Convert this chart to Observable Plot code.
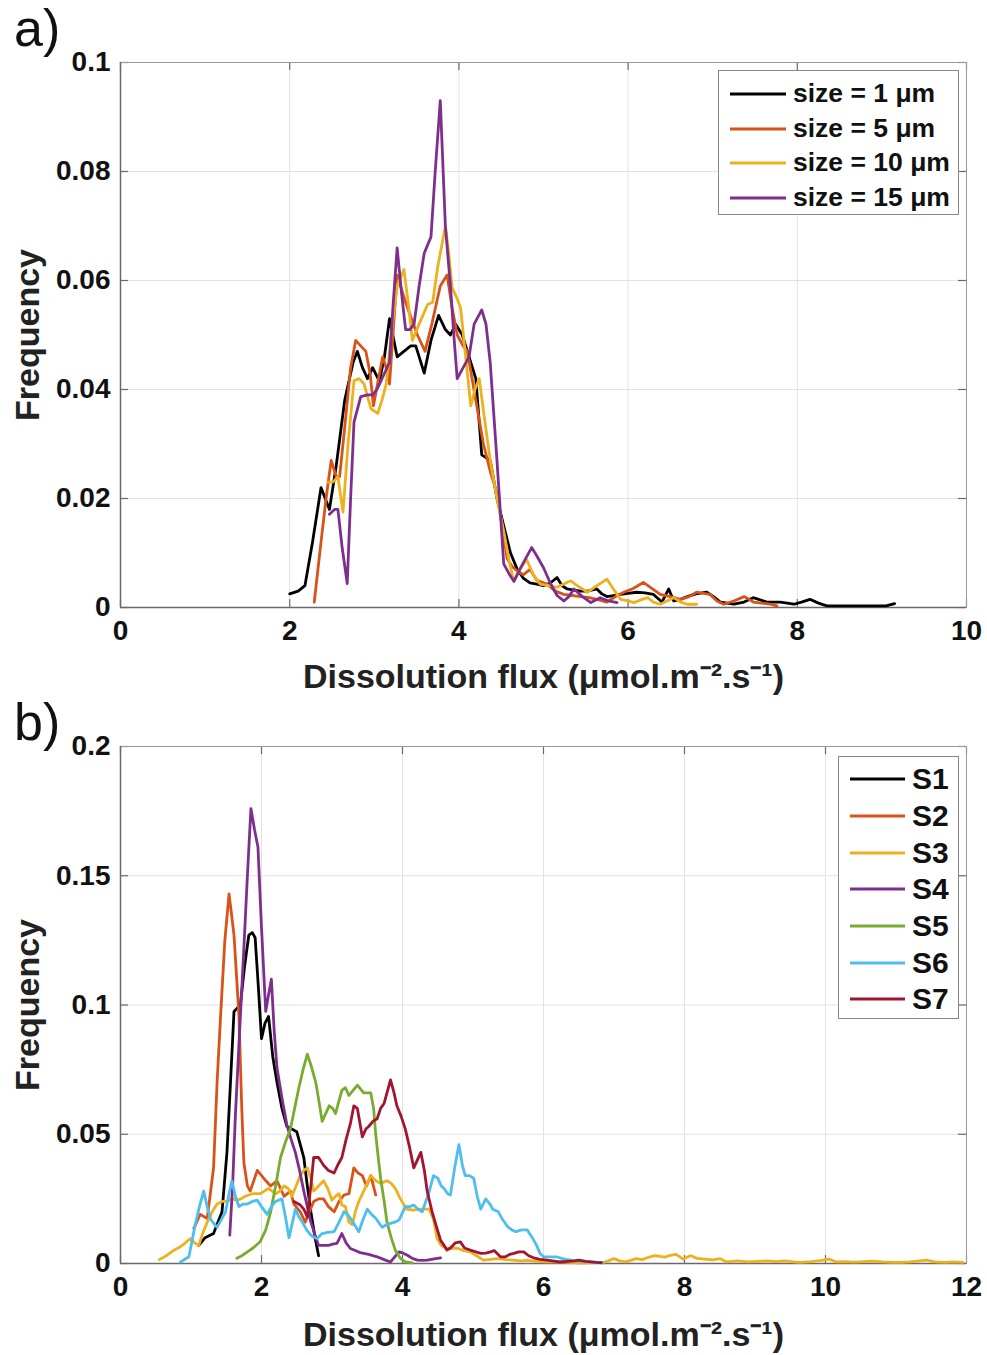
<!DOCTYPE html>
<html><head><meta charset="utf-8">
<script src="https://cdn.jsdelivr.net/npm/d3@7"></script>
<script src="https://cdn.jsdelivr.net/npm/@observablehq/plot@0.6"></script>
<style>
body{margin:0;background:#fff;font-family:"Liberation Sans",Arial,sans-serif;}
#wrap{position:relative;width:987px;height:1355px;overflow:hidden;background:#fff}
.panel{position:absolute;left:0}
.plabel{position:absolute;left:14px;font-size:52px;line-height:1;color:#111}
.legend{position:absolute;background:#fff;border:1.5px solid #888;box-sizing:border-box;font-weight:bold;color:#111}
.legend .row{position:absolute;left:10px;display:flex;align-items:center;white-space:nowrap}
.legend svg{display:block}
</style>
</head><body><div id="wrap"></div>
<script>
// ---------- Panel a: particle size ----------
const namesA = ["size = 1 μm", "size = 5 μm", "size = 10 μm", "size = 15 μm"];
const colorsA = ["#000000", "#D95319", "#EDB120", "#7E2F8E"];
const xTicksA = [0, 2, 4, 6, 8, 10];
const yTicksA = [0, 0.02, 0.04, 0.06, 0.08, 0.1];

const size1 = [[2.0,0.0025],[2.1,0.003],[2.18,0.004],[2.27,0.012],[2.37,0.022],[2.47,0.018],[2.55,0.026],[2.65,0.038],[2.75,0.045],[2.8,0.047],[2.86,0.044],[2.92,0.042],[2.98,0.044],[3.06,0.0415],[3.12,0.046],[3.18,0.053],[3.27,0.046],[3.35,0.047],[3.43,0.048],[3.49,0.048],[3.59,0.043],[3.67,0.049],[3.76,0.0536],[3.84,0.051],[3.9,0.050],[3.96,0.052],[4.04,0.050],[4.12,0.046],[4.2,0.042],[4.27,0.028],[4.37,0.027],[4.45,0.02],[4.53,0.015],[4.61,0.010],[4.69,0.007],[4.76,0.0054],[4.84,0.0045],[4.92,0.0043],[5.0,0.004],[5.08,0.0045],[5.16,0.0055],[5.22,0.004],[5.28,0.0034],[5.36,0.0032],[5.44,0.003],[5.52,0.003],[5.63,0.0034],[5.69,0.0025],[5.75,0.002],[5.83,0.0022],[5.91,0.0024],[6.0,0.0026],[6.1,0.0028],[6.2,0.0027],[6.3,0.0024],[6.4,0.001],[6.48,0.0034],[6.54,0.0012],[6.62,0.0015],[6.7,0.002],[6.8,0.0025],[6.93,0.0028],[7.01,0.002],[7.09,0.001],[7.17,0.0008],[7.25,0.0006],[7.37,0.001],[7.48,0.0018],[7.56,0.0014],[7.64,0.001],[7.72,0.001],[7.8,0.001],[7.88,0.0008],[7.96,0.0006],[8.05,0.001],[8.15,0.0015],[8.25,0.0008],[8.35,0.0003],[8.5,0.0003],[8.7,0.0003],[8.9,0.0003],[9.05,0.0003],[9.15,0.0007]];
const size5 = [[2.29,0.001],[2.37,0.012],[2.43,0.02],[2.49,0.027],[2.55,0.024],[2.59,0.024],[2.65,0.033],[2.72,0.044],[2.78,0.049],[2.84,0.048],[2.9,0.047],[2.95,0.043],[2.99,0.037],[3.05,0.042],[3.1,0.046],[3.14,0.044],[3.18,0.041],[3.27,0.061],[3.33,0.058],[3.37,0.056],[3.44,0.053],[3.51,0.050],[3.6,0.047],[3.68,0.052],[3.78,0.059],[3.86,0.061],[3.92,0.055],[3.98,0.050],[4.05,0.048],[4.1,0.047],[4.2,0.038],[4.29,0.030],[4.37,0.025],[4.45,0.021],[4.52,0.014],[4.57,0.009],[4.63,0.0075],[4.69,0.0067],[4.76,0.006],[4.84,0.007],[4.92,0.005],[5.04,0.0043],[5.14,0.003],[5.24,0.0024],[5.34,0.0022],[5.44,0.002],[5.54,0.0018],[5.63,0.0015],[5.75,0.001],[5.85,0.002],[5.95,0.0028],[6.06,0.0035],[6.18,0.0046],[6.28,0.0035],[6.38,0.0024],[6.5,0.002],[6.62,0.0015],[6.72,0.002],[6.81,0.0028],[6.89,0.0026],[6.97,0.0024],[7.05,0.0012],[7.13,0.0006],[7.25,0.0012],[7.37,0.002],[7.43,0.0015],[7.48,0.001],[7.58,0.0008],[7.68,0.0006],[7.76,0.0003]];
const size10 = [[2.45,0.023],[2.51,0.023],[2.57,0.024],[2.63,0.0175],[2.69,0.03],[2.76,0.0416],[2.82,0.042],[2.88,0.041],[2.96,0.0365],[3.04,0.0356],[3.09,0.038],[3.14,0.041],[3.2,0.05],[3.27,0.059],[3.35,0.062],[3.4,0.056],[3.45,0.049],[3.53,0.052],[3.63,0.0556],[3.69,0.056],[3.75,0.0625],[3.84,0.070],[3.88,0.065],[3.92,0.0587],[3.97,0.057],[4.02,0.055],[4.08,0.046],[4.14,0.037],[4.19,0.04],[4.24,0.042],[4.3,0.035],[4.37,0.027],[4.45,0.02],[4.53,0.014],[4.6,0.008],[4.65,0.0048],[4.72,0.007],[4.8,0.0088],[4.88,0.006],[4.96,0.0043],[5.06,0.004],[5.16,0.0037],[5.24,0.0043],[5.32,0.0049],[5.42,0.0038],[5.52,0.0028],[5.63,0.004],[5.75,0.0052],[5.83,0.0033],[5.91,0.0015],[6.0,0.0012],[6.07,0.0009],[6.15,0.0014],[6.23,0.0018],[6.3,0.001],[6.38,0.0006],[6.46,0.0012],[6.54,0.0018],[6.62,0.001],[6.7,0.0006],[6.81,0.0006]];
const size15 = [[2.47,0.0171],[2.53,0.018],[2.57,0.018],[2.62,0.011],[2.68,0.0044],[2.72,0.02],[2.76,0.034],[2.84,0.0387],[2.92,0.039],[2.98,0.039],[3.03,0.040],[3.08,0.0416],[3.18,0.045],[3.22,0.055],[3.27,0.066],[3.32,0.058],[3.37,0.051],[3.42,0.051],[3.47,0.052],[3.53,0.059],[3.59,0.065],[3.67,0.068],[3.72,0.08],[3.78,0.093],[3.84,0.070],[3.9,0.059],[3.94,0.05],[3.98,0.042],[4.05,0.044],[4.12,0.046],[4.18,0.052],[4.27,0.0546],[4.32,0.052],[4.37,0.045],[4.45,0.027],[4.53,0.008],[4.6,0.006],[4.65,0.0048],[4.72,0.007],[4.79,0.009],[4.86,0.011],[4.92,0.0095],[5.0,0.0073],[5.08,0.0045],[5.16,0.0022],[5.24,0.0012],[5.3,0.002],[5.36,0.0034],[5.46,0.002],[5.56,0.0009],[5.67,0.0018],[5.77,0.0012],[5.87,0.0009]];

// ---------- Panel b: samples ----------
const namesB = ["S1", "S2", "S3", "S4", "S5", "S6", "S7"];
const colorsB = ["#000000", "#D95319", "#EDB120", "#7E2F8E", "#77AC30", "#4DBEEE", "#A2142F"];
const xTicksB = [0, 2, 4, 6, 8, 10, 12];
const yTicksB = [0, 0.05, 0.1, 0.15, 0.2];

const s1 = [[1.11,0.007],[1.2,0.010],[1.32,0.0116],[1.44,0.020],[1.51,0.043],[1.56,0.07],[1.61,0.0975],[1.7,0.100],[1.76,0.115],[1.82,0.127],[1.87,0.128],[1.91,0.126],[1.96,0.105],[2.0,0.087],[2.05,0.093],[2.1,0.0956],[2.16,0.08],[2.22,0.070],[2.29,0.06],[2.36,0.053],[2.43,0.052],[2.5,0.051],[2.55,0.046],[2.6,0.041],[2.65,0.03],[2.7,0.020],[2.76,0.01],[2.81,0.003]];
const s2 = [[1.04,0.0136],[1.13,0.019],[1.23,0.0174],[1.32,0.037],[1.37,0.07],[1.42,0.096],[1.48,0.125],[1.54,0.143],[1.61,0.127],[1.68,0.096],[1.72,0.06],[1.75,0.039],[1.8,0.03],[1.84,0.028],[1.94,0.036],[2.03,0.033],[2.13,0.030],[2.22,0.032],[2.32,0.026],[2.41,0.028],[2.46,0.023],[2.55,0.02],[2.62,0.016],[2.74,0.024],[2.81,0.025],[2.88,0.025],[2.95,0.022],[3.03,0.020],[3.1,0.024],[3.17,0.0265],[3.24,0.027],[3.31,0.037],[3.37,0.035],[3.43,0.034],[3.49,0.03],[3.55,0.034],[3.62,0.0265]];
const s3 = [[0.55,0.0015],[0.65,0.003],[0.75,0.005],[0.85,0.0065],[0.92,0.008],[0.99,0.0097],[1.05,0.008],[1.11,0.007],[1.17,0.012],[1.23,0.016],[1.3,0.02],[1.37,0.023],[1.44,0.024],[1.51,0.024],[1.58,0.025],[1.65,0.0245],[1.71,0.025],[1.77,0.026],[1.87,0.027],[1.98,0.027],[2.04,0.028],[2.1,0.029],[2.2,0.027],[2.26,0.028],[2.32,0.030],[2.38,0.029],[2.43,0.026],[2.49,0.03],[2.55,0.034],[2.6,0.036],[2.65,0.037],[2.7,0.033],[2.74,0.028],[2.81,0.03],[2.88,0.032],[2.94,0.029],[3.0,0.0245],[3.05,0.026],[3.1,0.027],[3.14,0.0226],[3.19,0.022],[3.24,0.016],[3.29,0.015],[3.33,0.020],[3.38,0.024],[3.45,0.028],[3.5,0.031],[3.55,0.034],[3.62,0.032],[3.69,0.031],[3.78,0.032],[3.84,0.031],[3.9,0.029],[3.97,0.025],[4.06,0.021],[4.16,0.0206],[4.22,0.021],[4.3,0.021],[4.38,0.021],[4.44,0.017],[4.49,0.0097],[4.55,0.007],[4.63,0.0058],[4.71,0.006],[4.79,0.0058],[4.87,0.005],[4.96,0.0045],[5.05,0.003],[5.15,0.0013],[5.25,0.0016],[5.36,0.0019],[5.46,0.0015],[5.56,0.0013],[5.67,0.001],[5.77,0.0012],[5.9,0.0008],[6.03,0.0006],[6.15,0.0007],[6.28,0.0006],[6.4,0.0003],[6.54,0.0002],[6.7,0.0003],[6.85,0.0004],[6.92,0.001],[7.0,0.0019],[7.08,0.001],[7.16,0.0006],[7.24,0.0012],[7.31,0.0019],[7.4,0.0015],[7.5,0.0025],[7.57,0.003],[7.65,0.0028],[7.72,0.0025],[7.78,0.003],[7.88,0.0035],[7.98,0.0017],[8.04,0.0025],[8.09,0.003],[8.18,0.002],[8.29,0.0017],[8.4,0.0014],[8.5,0.0019],[8.6,0.0006],[8.75,0.001],[8.9,0.0006],[9.05,0.0008],[9.17,0.001],[9.3,0.0007],[9.43,0.001],[9.55,0.0006],[9.63,0.0004],[9.8,0.0007],[9.95,0.0012],[10.05,0.0017],[10.15,0.0006],[10.3,0.0007],[10.4,0.0005],[10.55,0.0007],[10.66,0.0009],[10.8,0.0006],[10.95,0.0004],[11.07,0.0004],[11.2,0.0006],[11.3,0.0009],[11.43,0.0013],[11.55,0.0006],[11.69,0.0004],[11.8,0.0006],[11.95,0.0004]];
const s4 = [[1.55,0.011],[1.59,0.03],[1.63,0.0575],[1.69,0.09],[1.75,0.122],[1.8,0.15],[1.85,0.176],[1.9,0.168],[1.95,0.161],[2.0,0.13],[2.06,0.0975],[2.1,0.104],[2.14,0.11],[2.18,0.09],[2.22,0.0756],[2.29,0.064],[2.36,0.0536],[2.42,0.048],[2.48,0.043],[2.54,0.036],[2.6,0.028],[2.65,0.022],[2.7,0.016],[2.76,0.011],[2.81,0.007],[2.88,0.007],[2.95,0.007],[3.01,0.0075],[3.07,0.0078],[3.14,0.0116],[3.2,0.008],[3.26,0.0058],[3.33,0.005],[3.4,0.0042],[3.52,0.0035],[3.64,0.0026],[3.74,0.0015],[3.83,0.0006],[3.95,0.0045],[4.01,0.004],[4.07,0.0032],[4.14,0.002],[4.21,0.0013],[4.28,0.0012],[4.35,0.0013],[4.45,0.0018],[4.54,0.0022]];
const s5 = [[1.65,0.002],[1.72,0.003],[1.8,0.0045],[1.88,0.006],[1.98,0.0084],[2.06,0.013],[2.13,0.020],[2.2,0.03],[2.27,0.041],[2.34,0.047],[2.41,0.052],[2.47,0.06],[2.53,0.068],[2.59,0.075],[2.65,0.081],[2.71,0.076],[2.77,0.070],[2.82,0.062],[2.86,0.055],[2.91,0.058],[2.96,0.061],[3.01,0.06],[3.05,0.058],[3.1,0.063],[3.14,0.067],[3.19,0.068],[3.24,0.065],[3.3,0.067],[3.36,0.069],[3.42,0.067],[3.45,0.066],[3.5,0.066],[3.55,0.066],[3.59,0.06],[3.62,0.05],[3.66,0.04],[3.69,0.033],[3.74,0.024],[3.78,0.016],[3.84,0.01],[3.9,0.005],[3.97,0.002],[4.04,0.0006],[4.14,0.0002]];
const s6 = [[0.85,0.0006],[0.97,0.0026],[1.06,0.015],[1.12,0.022],[1.18,0.028],[1.23,0.022],[1.28,0.017],[1.37,0.014],[1.43,0.017],[1.49,0.020],[1.54,0.027],[1.58,0.032],[1.63,0.026],[1.68,0.022],[1.74,0.023],[1.8,0.023],[1.87,0.024],[1.94,0.0245],[2.0,0.022],[2.08,0.019],[2.14,0.022],[2.2,0.024],[2.29,0.025],[2.34,0.018],[2.39,0.010],[2.44,0.016],[2.48,0.021],[2.53,0.018],[2.58,0.016],[2.64,0.013],[2.7,0.011],[2.75,0.010],[2.79,0.0097],[2.86,0.0116],[2.94,0.012],[3.03,0.0123],[3.1,0.016],[3.17,0.020],[3.22,0.019],[3.26,0.0175],[3.32,0.015],[3.38,0.0123],[3.44,0.017],[3.5,0.021],[3.56,0.019],[3.62,0.0175],[3.71,0.014],[3.77,0.015],[3.83,0.0155],[3.89,0.016],[3.95,0.0168],[4.04,0.022],[4.1,0.022],[4.16,0.0226],[4.22,0.021],[4.28,0.020],[4.33,0.024],[4.37,0.027],[4.44,0.034],[4.5,0.033],[4.55,0.03],[4.59,0.029],[4.64,0.027],[4.68,0.0265],[4.74,0.037],[4.8,0.046],[4.85,0.038],[4.89,0.034],[4.95,0.034],[5.01,0.033],[5.06,0.026],[5.11,0.021],[5.18,0.025],[5.24,0.023],[5.28,0.021],[5.36,0.020],[5.42,0.017],[5.49,0.0143],[5.55,0.013],[5.61,0.0123],[5.69,0.013],[5.77,0.013],[5.84,0.01],[5.9,0.0071],[5.95,0.004],[6.0,0.0026],[6.09,0.0026],[6.18,0.0026],[6.28,0.0018],[6.39,0.0013],[6.52,0.0008],[6.64,0.0006],[6.85,0.0002]];
const s7 = [[2.46,0.024],[2.55,0.0226],[2.6,0.021],[2.65,0.018],[2.7,0.03],[2.74,0.041],[2.81,0.041],[2.88,0.038],[2.95,0.036],[3.03,0.035],[3.08,0.038],[3.14,0.041],[3.2,0.048],[3.26,0.054],[3.31,0.061],[3.36,0.06],[3.43,0.049],[3.48,0.052],[3.52,0.053],[3.58,0.055],[3.64,0.056],[3.69,0.060],[3.74,0.062],[3.8,0.068],[3.83,0.071],[3.88,0.066],[3.92,0.061],[3.98,0.057],[4.04,0.052],[4.1,0.045],[4.16,0.037],[4.21,0.04],[4.26,0.043],[4.31,0.036],[4.35,0.028],[4.42,0.02],[4.49,0.0135],[4.54,0.009],[4.59,0.007],[4.63,0.0052],[4.68,0.006],[4.75,0.008],[4.82,0.0084],[4.88,0.006],[4.96,0.0052],[5.04,0.0045],[5.11,0.0039],[5.18,0.004],[5.25,0.0045],[5.3,0.005],[5.39,0.0026],[5.46,0.0026],[5.52,0.0035],[5.58,0.0039],[5.65,0.0045],[5.72,0.0045],[5.79,0.003],[5.86,0.0022],[5.95,0.0016],[6.05,0.0013],[6.15,0.0009],[6.23,0.0006],[6.34,0.0008],[6.44,0.001],[6.5,0.0013],[6.6,0.0008],[6.75,0.0004],[6.82,0.0003]];

const xLabel = "Dissolution flux (μmol.m⁻².s⁻¹)";
const yLabel = "Frequency";

function chart({series, names, colors, xTicks, yTicks, height, marginTop, marginBottom, xLabelDy}) {
  const data = series.flatMap((s, i) => s.map(([x, y]) => ({x, y, k: names[i]})));
  const W = 987, mL = 120, mR = 21;
  const innerH = height - marginTop - marginBottom, innerW = W - mL - mR, tk = 8;
  const tickStyle = {stroke: "#6a6a6a", strokeWidth: 1.2};
  return Plot.plot({
    width: W, height, marginLeft: mL, marginRight: mR, marginTop, marginBottom,
    style: {fontFamily: "'Liberation Sans', Arial, sans-serif", color: "#111", background: "#fff"},
    x: {domain: [xTicks[0], xTicks[xTicks.length - 1]]},
    y: {domain: [yTicks[0], yTicks[yTicks.length - 1]]},
    color: {domain: names, range: colors},
    marks: [
      Plot.gridX(xTicks, {stroke: "#e2e2e2", strokeOpacity: 1}),
      Plot.gridY(yTicks, {stroke: "#e2e2e2", strokeOpacity: 1}),
      // inward tick marks on all four sides
      Plot.tickX(xTicks, {x: d => d, insetTop: innerH - tk, ...tickStyle}),
      Plot.tickX(xTicks, {x: d => d, insetBottom: innerH - tk, ...tickStyle}),
      Plot.tickY(yTicks, {y: d => d, insetRight: innerW - tk, ...tickStyle}),
      Plot.tickY(yTicks, {y: d => d, insetLeft: innerW - tk, ...tickStyle}),
      Plot.frame({stroke: "#9a9a9a"}),
      Plot.ruleX([xTicks[0]], {stroke: "#6a6a6a", strokeWidth: 1.5}),
      Plot.ruleY([yTicks[0]], {stroke: "#6a6a6a", strokeWidth: 1.5}),
      Plot.axisX(xTicks, {tickSize: 0, tickPadding: 13, fontSize: 28, fontWeight: "bold", label: null}),
      Plot.axisY(yTicks, {tickSize: 0, tickPadding: 10, fontSize: 28, fontWeight: "bold", label: null, tickFormat: d => String(d)}),
      Plot.line(data, {x: "x", y: "y", z: "k", stroke: "k", strokeWidth: 2.8, strokeLinejoin: "round"}),
      Plot.text([yLabel], {frameAnchor: "left", textAnchor: "middle", lineAnchor: "middle", rotate: -90, dx: -92, fontSize: 34, fontWeight: "bold", fill: "#222"}),
      Plot.text([xLabel], {frameAnchor: "bottom", textAnchor: "middle", lineAnchor: "middle", dy: xLabelDy, fontSize: 34, fontWeight: "bold", fill: "#222"})
    ]
  });
}

function legend({names, colors, left, top, width, height, rowCenters, fontSize, lineW}) {
  const box = document.createElement("div");
  box.className = "legend";
  Object.assign(box.style, {left: left + "px", top: top + "px", width: width + "px", height: height + "px", fontSize: fontSize + "px"});
  names.forEach((n, i) => {
    const row = document.createElement("div");
    row.className = "row";
    row.style.top = (rowCenters[i] - fontSize * 0.6) + "px";
    row.style.height = (fontSize * 1.2) + "px";
    row.innerHTML = `<svg width="${lineW}" height="6" style="margin-right:6px"><line x1="1" x2="${lineW - 1}" y1="3" y2="3" stroke="${colors[i]}" stroke-width="2.8"/></svg><span>${n}</span>`;
    box.appendChild(row);
  });
  return box;
}

const wrap = document.getElementById("wrap");

const pa = chart({series: [size1, size5, size10, size15], names: namesA, colors: colorsA,
  xTicks: xTicksA, yTicks: yTicksA, height: 700, marginTop: 62, marginBottom: 93, xLabelDy: 70});
pa.classList.add("panel"); pa.style.top = "0px";
wrap.appendChild(pa);

const pb = chart({series: [s1, s2, s3, s4, s5, s6, s7], names: namesB, colors: colorsB,
  xTicks: xTicksB, yTicks: yTicksB, height: 655, marginTop: 46, marginBottom: 92, xLabelDy: 72});
pb.classList.add("panel"); pb.style.top = "700px";
wrap.appendChild(pb);

const la = document.createElement("div"); la.className = "plabel"; la.style.top = "2px"; la.textContent = "a)";
const lb = document.createElement("div"); lb.className = "plabel"; lb.style.top = "696px"; lb.textContent = "b)";
wrap.appendChild(la); wrap.appendChild(lb);

wrap.appendChild(legend({names: namesA, colors: colorsA, left: 718, top: 70, width: 241, height: 145,
  rowCenters: [23, 58, 92, 127], fontSize: 26.5, lineW: 58}));
wrap.appendChild(legend({names: namesB, colors: colorsB, left: 838, top: 756, width: 121, height: 263,
  rowCenters: [22, 59, 96, 132, 169, 206, 242], fontSize: 30, lineW: 57}));
</script></body></html>
